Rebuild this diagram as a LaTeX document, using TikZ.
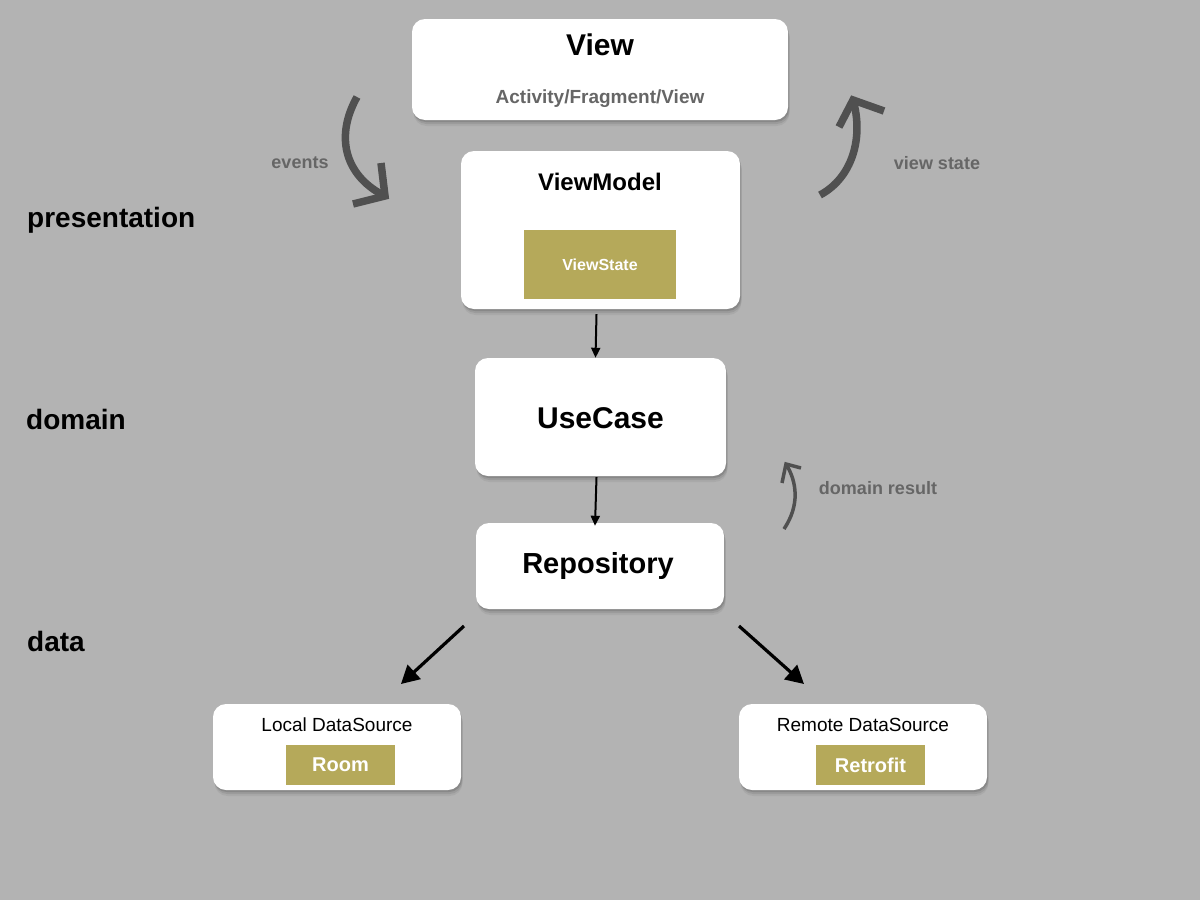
\documentclass[tikz,border=0pt]{standalone}
\usepackage{fontspec}
\setmainfont{Liberation Sans}
\usetikzlibrary{shadows,arrows.meta}
\definecolor{bg}{HTML}{B3B3B3}
\definecolor{olive}{HTML}{B5A95A}
\definecolor{lbl}{HTML}{666666}
\definecolor{curv}{HTML}{505050}
\newcommand{\fs}[1]{\fontsize{#1}{#1}\selectfont}
\tikzset{
  box/.style={draw=none, fill=white, rounded corners=13pt, inner sep=0pt,
    drop shadow={shadow xshift=1.5pt, shadow yshift=-6pt, opacity=0.05, fill=black},
    drop shadow={shadow xshift=1.5pt, shadow yshift=-4pt, opacity=0.08, fill=black},
    drop shadow={shadow xshift=1pt, shadow yshift=-2pt, opacity=0.12, fill=black}},
  tag/.style={fill=olive, inner sep=0pt, text=white, font=\bfseries},
  title/.style={inner sep=0pt, text=black, font=\bfseries},
  layer/.style={inner sep=0pt, anchor=west, text=black, font=\fs{28}\bfseries},
  note/.style={inner sep=0pt, text=lbl},
  flow/.style={draw=black, line width=2pt, -{Triangle[length=10pt,width=9pt]}},
  bigflow/.style={draw=black, line width=3.2pt, -{Triangle[length=18pt,width=19pt]}},
  curvy/.style={draw=curv, line width=7.5pt, line cap=butt},
  smallcurvy/.style={draw=curv, line width=3.5pt},
  barb/.style={line cap=butt, line join=miter},
}
\begin{document}
\begin{tikzpicture}[x=1pt,y=-1pt]
\fill[bg] (0,0) rectangle (1200,900);
\useasboundingbox (0,0) rectangle (1200,900);

% boxes
\node[box, minimum width=376pt, minimum height=101pt] (view) at (600,69.5) {};
\node[title, font=\fs{30}\bfseries] (viewt) at (600,45) {View};
\node[note, font=\fs{19}\bfseries] (viewsub) at (600,99) {Activity/Fragment/View};

\node[box, minimum width=279pt, minimum height=158pt] (vm) at (600.5,230) {};
\node[title, font=\fs{24}\bfseries] (vmt) at (600,182) {ViewModel};
\node[tag, minimum width=152pt, minimum height=69pt, font=\fs{16}\bfseries] (vs) at (600,264.5) {ViewState};

\node[box, minimum width=251pt, minimum height=118pt] (uc) at (600.5,417) {};
\node[title, font=\fs{30}\bfseries] (uct) at (600.5,418) {UseCase};

\node[box, minimum width=248pt, minimum height=86pt] (repo) at (600,566) {};
\node[title, font=\fs{29}\bfseries] (repot) at (598,566) {Repository};

\node[box, minimum width=248pt, minimum height=86pt] (local) at (337,747) {};
\node[title, font=\fs{19}] (localt) at (337,725) {Local DataSource};
\node[tag, minimum width=109pt, minimum height=40pt, font=\fs{20}\bfseries] (room) at (340.5,765) {Room};

\node[box, minimum width=248pt, minimum height=86pt] (remote) at (863,747) {};
\node[title, font=\fs{19}] (remotet) at (863,725) {Remote DataSource};
\node[tag, minimum width=109pt, minimum height=40pt, font=\fs{20}\bfseries] (retro) at (870.5,765) {Retrofit};

% layer labels
\node[layer] (pres) at (27,220) {presentation};
\node[layer] (dom) at (26,419) {domain};
\node[layer] (dat) at (27,641) {data};

% notes
\node[note, font=\fs{18}\bfseries] (ev) at (300,163) {events};
\node[note, font=\fs{18}\bfseries] (vst) at (937,163) {view state};
\node[note, font=\fs{18}\bfseries] (dr) at (878,488) {domain result};

% straight connectors
\draw[flow] ([xshift=-4pt,yshift=-5pt]vm.south) -- ([xshift=-5pt]uc.north);
\draw[flow] ([xshift=-4pt,yshift=-1pt]uc.south) -- ([xshift=-5pt,yshift=-3pt]repo.north);
\coordinate (rl) at (464,626);
\coordinate (lt) at (401,684);
\coordinate (rr) at (739,626);
\coordinate (rt) at (804,684);
\draw[bigflow] (rl) -- (lt);
\draw[bigflow] (rr) -- (rt);

% curved arrows
\coordinate (evs) at (357,97);
\coordinate (eve) at (385,196);
\draw[curvy] (evs) .. controls (333,140) and (348,178) .. (eve);
\draw[curvy, barb] (381,163) -- (eve) -- (353,204);

\coordinate (vss) at (820,195);
\coordinate (vse) at (853,100);
\draw[curvy] (vss) .. controls (852,178) and (864,138) .. (vse);
\draw[curvy, barb] (839,127) -- (vse) -- (884,111);

\coordinate (drs) at (784,529);
\coordinate (dre) at (786,464);
\draw[smallcurvy] (drs) .. controls (800,505) and (797,482) .. (dre);
\draw[smallcurvy, barb] (782,483) -- (dre) -- (801,468);
\end{tikzpicture}
\end{document}
